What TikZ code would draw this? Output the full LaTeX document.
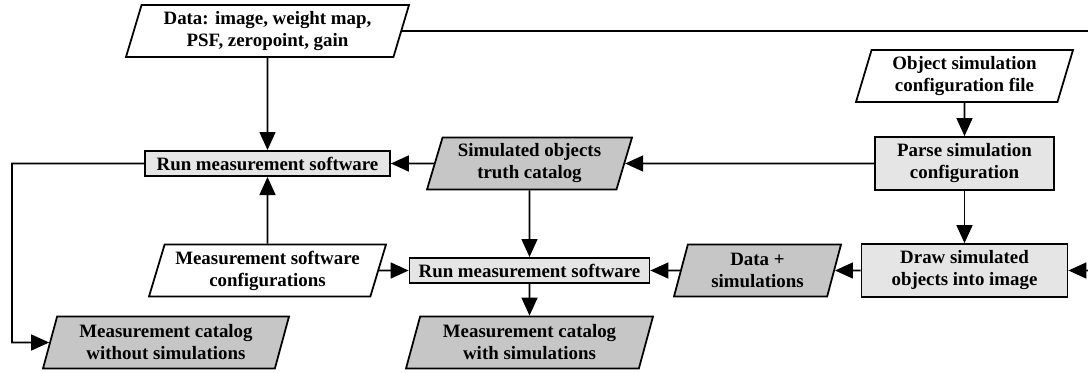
\documentclass[tikz,border=0pt]{standalone}
\usepackage{fontspec}
\setmainfont{Liberation Serif}
\usetikzlibrary{shapes.geometric, arrows.meta}
\tikzstyle{io} = [trapezium, trapezium left angle=70, trapezium right angle=110, trapezium stretches body, minimum height=1.04cm, inner xsep=0pt, inner ysep=1pt, text centered, align=center, draw=black, line width=1pt, fill=white]
\tikzstyle{iodark} = [io, fill=gray!45]
\tikzstyle{process} = [rectangle, minimum height=1.06cm, text centered, align=center, draw=black, line width=1pt, fill=gray!20]
\tikzstyle{arrow} = [line width=0.9pt,->,>={Triangle[length=3.6mm,width=3.2mm]}]

\begin{document}
\begin{tikzpicture}[node distance=2cm, font=\fontsize{10.75}{12.5}\selectfont\bfseries]
      \useasboundingbox (0,0) rectangle (21.76,-7.44);
      \node (data) [io, minimum width=5.66cm] at (5.35,-0.62) {Data: image, weight map,\\ PSF, zeropoint, gain};
      \node (run1) [process, minimum height=0.5cm, minimum width=4.9cm, below of=data, yshift=-0.65cm] {Run measurement software};
      \draw [arrow] (data) -- (run1);
      \node (msc) [io, minimum width=4.74cm, below of=run1, yshift=-0.14cm] {Measurement software\\ configurations};
      \draw [arrow] (msc) -- (run1);
      \node (without) [iodark, minimum width=4.92cm, below of=msc, xshift=-2.03cm, yshift=0.56cm] {Measurement catalog\\ without simulations};
      \node (truth) [iodark, minimum width=4.1cm, right of=run1, xshift=3.24cm] {Simulated objects\\ truth catalog};
      \draw [arrow] (truth) -- (run1);
      \node (run2) [process, minimum height=0.5cm, minimum width=4.8cm, below of=truth, yshift=-0.14cm] {Run measurement software};
      \draw [arrow] (truth) -- (run2);
      \draw [arrow] (msc) -- (run2);
      \node (withsim) [iodark, minimum width=4.94cm, below of=run2, yshift=0.56cm] {Measurement catalog\\ with simulations};
      \draw [arrow] (run2) -- (withsim);
      \node (datasim) [iodark, minimum width=3.34cm, right of=run2, xshift=2.56cm] {Data +\\ simulations};
      \draw [arrow] (datasim) -- (run2);
      \node (parse) [process, minimum width=3.58cm, right of=truth, xshift=6.7cm] {Parse simulation\\ configuration};
      \draw [arrow] (parse) -- (truth);
      \node (objcfg) [io, minimum width=4.34cm, above of=parse, yshift=-0.25cm] {Object simulation\\ configuration file};
      \draw [arrow] (objcfg) -- (parse);
      \node (drawsim) [process, minimum width=4.12cm, below of=parse, yshift=-0.14cm] {Draw simulated\\ objects into image};
      \draw [arrow] (parse) -- (drawsim);
      \draw [arrow] (drawsim) -- (datasim);
      % feedback lines
      \coordinate (lturn) at (0.24,-3.27);
      \coordinate (rturn) at (22.2,-0.62);
      \draw [arrow] (run1.west) -- (lturn) |- (without.west);
      \draw [arrow] (data.east) -- (rturn) |- (drawsim.east);
    \end{tikzpicture}
\end{document}
